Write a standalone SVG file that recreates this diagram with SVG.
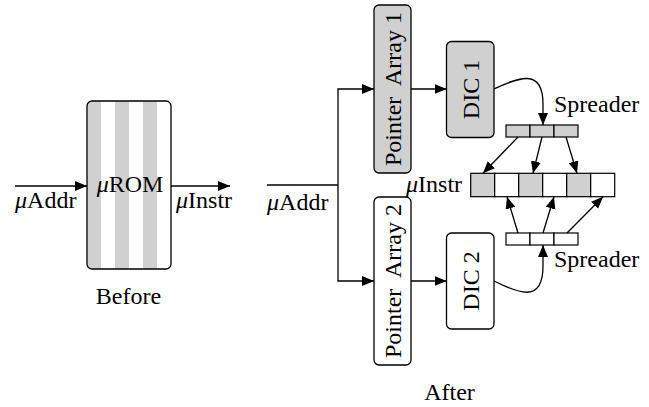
<svg xmlns="http://www.w3.org/2000/svg" width="649" height="407" viewBox="0 0 649 407">
<style>
text{font-family:"Liberation Serif","Times New Roman",serif;font-size:24px;fill:#000}
.mu{font-style:italic}
.ln{fill:none;stroke:#000;stroke-width:1.3}
.box{stroke:#000;stroke-width:1.3}
.g{fill:#d0d0d0}
.w{fill:#fff}
.cell{stroke:#000;stroke-width:1.2}
</style>
<defs>
<marker id="ah" markerUnits="userSpaceOnUse" markerWidth="13" markerHeight="11" refX="12" refY="5" orient="auto">
<path d="M0,0 L12,5 L0,10 z" fill="#000"/>
</marker>
<clipPath id="romclip"><rect x="87" y="101" width="84" height="168" rx="5"/></clipPath>
</defs>

<g id="before-rom">
<rect x="87" y="101" width="84" height="168" rx="5" fill="#fff"/>
<g clip-path="url(#romclip)" class="g">
<rect x="87" y="101" width="14" height="168"/>
<rect x="115" y="101" width="14" height="168"/>
<rect x="143" y="101" width="14" height="168"/>
</g>
<rect x="87" y="101" width="84" height="168" rx="5" fill="none" class="box"/>
<text x="130" y="192" text-anchor="middle"><tspan class="mu">μ</tspan>ROM</text>
</g>
<g id="before-labels">
<text x="15" y="208"><tspan class="mu">μ</tspan>Addr</text>
<text x="176" y="208"><tspan class="mu">μ</tspan>Instr</text>
<text x="128.5" y="304" text-anchor="middle">Before</text>
</g>

<g id="pa1">
<rect x="374" y="5" width="37" height="168" rx="5" class="box g"/>
<text transform="translate(392.5,89) rotate(-90)" x="0" y="8" text-anchor="middle" xml:space="preserve">Pointer  Array 1</text>
</g>
<g id="pa2">
<rect x="374" y="197" width="37" height="168" rx="5" class="box w"/>
<text transform="translate(392.5,281) rotate(-90)" x="0" y="8" text-anchor="middle" xml:space="preserve">Pointer  Array 2</text>
</g>
<g id="dic1">
<rect x="446.5" y="41.5" width="47.5" height="96" rx="5" class="box g"/>
<text transform="translate(470.5,89.5) rotate(-90)" x="0" y="8" text-anchor="middle">DIC 1</text>
</g>
<g id="dic2">
<rect x="446.5" y="233" width="47.5" height="96" rx="5" class="box w"/>
<text transform="translate(470.5,281) rotate(-90)" x="0" y="8" text-anchor="middle">DIC 2</text>
</g>
<g id="spreader1">
<rect x="506" y="125" width="24" height="12" class="cell g"/>
<rect x="530" y="125" width="24" height="12" class="cell g"/>
<rect x="554" y="125" width="24" height="12" class="cell g"/>
<text x="554" y="112">Spreader</text>
</g>
<g id="spreader2">
<rect x="506" y="233" width="24" height="12" class="cell w"/>
<rect x="530" y="233" width="24" height="12" class="cell w"/>
<rect x="554" y="233" width="24" height="12" class="cell w"/>
<text x="554" y="267">Spreader</text>
</g>
<g id="uinstr">
<rect x="470.7" y="173.3" width="24" height="23.4" class="cell g"/>
<rect x="494.7" y="173.3" width="24" height="23.4" class="cell w"/>
<rect x="518.7" y="173.3" width="24" height="23.4" class="cell g"/>
<rect x="542.7" y="173.3" width="24" height="23.4" class="cell w"/>
<rect x="566.7" y="173.3" width="24" height="23.4" class="cell g"/>
<rect x="590.7" y="173.3" width="24" height="23.4" class="cell w"/>
<text x="406" y="192"><tspan class="mu">μ</tspan>Instr</text>
</g>
<g id="after-labels">
<text x="267" y="210"><tspan class="mu">μ</tspan>Addr</text>
<text x="449.5" y="400" text-anchor="middle">After</text>
</g>

<g id="connectors">
<path class="ln" d="M15,186 L87,186" marker-end="url(#ah)"/>
<path class="ln" d="M171,186 L230,186" marker-end="url(#ah)"/>
<path class="ln" d="M267,185 L338,185"/>
<path class="ln" d="M338,185 L338,89 L374,89" marker-end="url(#ah)"/>
<path class="ln" d="M338,185 L338,281 L374,281" marker-end="url(#ah)"/>
<path class="ln" d="M411,89 L446.5,89" marker-end="url(#ah)"/>
<path class="ln" d="M411,281 L446.5,281" marker-end="url(#ah)"/>
<path class="ln" d="M494,89 C516,79 543,66 543,104 L543,125" marker-end="url(#ah)"/>
<path class="ln" d="M494,281 C518,293 543,304 543,266 L543,245" marker-end="url(#ah)"/>
<path class="ln" d="M518,137 L483,173.3" marker-end="url(#ah)"/>
<path class="ln" d="M542,137 L533,173.3" marker-end="url(#ah)"/>
<path class="ln" d="M566,137 L577,173.3" marker-end="url(#ah)"/>
<path class="ln" d="M518,233 L507,196.7" marker-end="url(#ah)"/>
<path class="ln" d="M543,233 L554,196.7" marker-end="url(#ah)"/>
<path class="ln" d="M567,233 L603,196.7" marker-end="url(#ah)"/>
</g>
</svg>
